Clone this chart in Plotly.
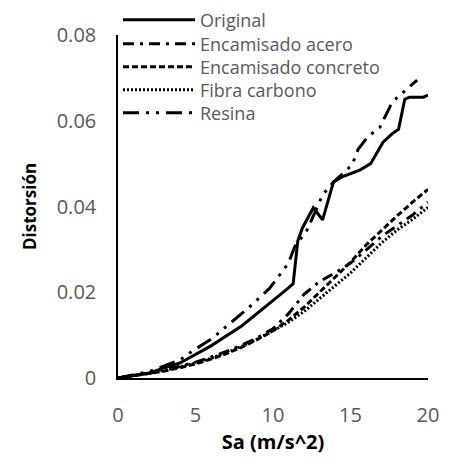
import plotly.graph_objects as go

# Sa values (m/s^2) and drift values
sa_original = [0, 2, 4, 6, 8, 10, 11, 11.3, 11.6, 11.9, 12.6, 13.2, 13.9, 14.5,
               15.6, 16.3, 17.1, 17.7, 18.1, 18.5, 18.8, 19.7, 20]
dr_original = [0, 0.0012, 0.0035, 0.0075, 0.0122, 0.0180, 0.0210, 0.0220, 0.0320,
               0.0350, 0.0397, 0.0369, 0.0457, 0.0470, 0.0485, 0.0500, 0.0550,
               0.0570, 0.0580, 0.0650, 0.0655, 0.0655, 0.0660]

sa_grid = [0, 1, 2, 3, 4, 5, 6, 7, 8, 9, 10, 11, 12, 13, 14, 15, 16, 17, 18, 19, 20]
dr_acero = [0, 0.0005, 0.0011, 0.0018, 0.0027, 0.0037, 0.0049, 0.0062, 0.0077,
            0.0094, 0.0115, 0.0150, 0.0195, 0.0225, 0.0245, 0.0268, 0.0298,
            0.0330, 0.0355, 0.0380, 0.0410]
dr_concreto = [0, 0.0005, 0.0010, 0.0016, 0.0024, 0.0033, 0.0044, 0.0057, 0.0072,
               0.0090, 0.0110, 0.0135, 0.0165, 0.0200, 0.0235, 0.0270, 0.0310,
               0.0345, 0.0378, 0.0410, 0.0440]
dr_fibra = [0, 0.0005, 0.0011, 0.0018, 0.0026, 0.0035, 0.0046, 0.0059, 0.0074,
            0.0091, 0.0110, 0.0130, 0.0155, 0.0185, 0.0215, 0.0245, 0.0280,
            0.0315, 0.0345, 0.0370, 0.0398]

sa_resina = [0, 2, 4, 4.6, 6.1, 6.9, 7.7, 8.4, 9.8, 10.4, 11.0, 11.4, 12.2, 13.2,
             13.9, 15.1, 15.5, 16.1, 16.9, 17.7, 18.5, 19.3]
dr_resina = [0, 0.0015, 0.0042, 0.0058, 0.0093, 0.0117, 0.0140, 0.0163, 0.0210,
             0.0240, 0.0268, 0.0306, 0.0345, 0.0427, 0.0457, 0.0497, 0.0534,
             0.0562, 0.0585, 0.0644, 0.0670, 0.0695]

series = [
    ("Original", sa_original, dr_original, "solid"),
    ("Encamisado acero", sa_grid, dr_acero, "11px,6px,3px,6px"),
    ("Encamisado concreto", sa_grid, dr_concreto, "6px,3px"),
    ("Fibra carbono", sa_grid, dr_fibra, "2px,2px"),
    ("Resina", sa_resina, dr_resina, "16px,7px,3px,7px,3px,7px"),
]

# one legend per entry so the rows sit at the same spacing as the original
# (positions in container coordinates)
legend_y = [0.9737, 0.9211, 0.8706, 0.8202, 0.7697]

fig = go.Figure()
legends = {}
for i, (name, xs, ys, dash) in enumerate(series):
    key = "legend" if i == 0 else f"legend{i + 1}"
    fig.add_trace(go.Scatter(x=xs, y=ys, mode="lines", name=name, legend=key,
                             line=dict(color="black", width=3, dash=dash)))
    legends[key] = dict(x=0.0, y=legend_y[i], xanchor="left", yanchor="middle",
                        yref="container", bgcolor="rgba(0,0,0,0)", itemwidth=72,
                        font=dict(size=18, color="#595959"))

# the page adds an 8px body margin, so the figure is 8px smaller each way
font = "Open Sans"
fig.update_layout(
    width=450, height=456, showlegend=True,
    margin=dict(l=110, r=30, t=27, b=86, autoexpand=False),
    plot_bgcolor="white", paper_bgcolor="white",
    font=dict(family=font, size=20, color="#595959"),
    xaxis=dict(range=[0, 20], tickvals=[0, 5, 10, 15, 20], showgrid=False,
               zeroline=False, showline=True, linecolor="black", linewidth=1.5,
               ticks="", ticklabelstandoff=18, automargin=False,
               title=dict(text="<b>Sa (m/s^2)</b>",
                          font=dict(size=20, color="black"), standoff=8)),
    yaxis=dict(range=[0, 0.08], tickvals=[0, 0.02, 0.04, 0.06, 0.08],
               ticktext=["0", "0.02", "0.04", "0.06", "0.08"], showgrid=False,
               zeroline=False, showline=True, linecolor="black", linewidth=1.5,
               ticks="", ticklabelstandoff=16, automargin=False,
               title=dict(text="<b>Distorsión</b>",
                          font=dict(size=17, color="black"), standoff=16)),
    **legends,
)

fig.write_html("out.html")
